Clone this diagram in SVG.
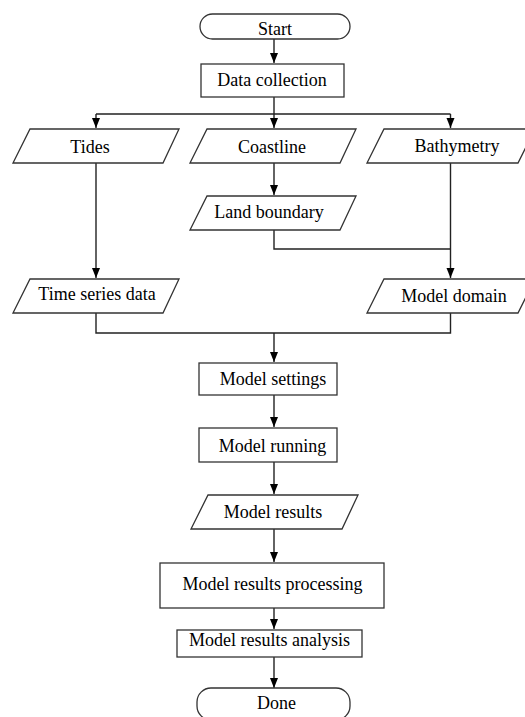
<svg xmlns="http://www.w3.org/2000/svg" width="525" height="717" viewBox="0 0 525 717">
<defs>
<marker id="ah" markerWidth="10" markerHeight="10" viewBox="0 0 10 10" refX="10" refY="5" orient="auto" markerUnits="userSpaceOnUse">
<path d="M0,1 L10,5 L0,9 Z" fill="#000"/>
</marker>
<style>
.s{fill:#fff;stroke:#333;stroke-width:1.3}
.t{font-family:"Liberation Serif","Times New Roman",serif;font-size:18px;fill:#000;text-anchor:middle}
.c{fill:none;stroke:#222;stroke-width:1.4}
</style>
</defs>
<rect width="525" height="717" fill="#fff"/>
<g id="connectors">
<path class="c" d="M274,39 V63" marker-end="url(#ah)"/>
<path class="c" d="M274,97 V114 M96,114 H450.5"/>
<path class="c" d="M96,114 V128" marker-end="url(#ah)"/>
<path class="c" d="M274,114 V128" marker-end="url(#ah)"/>
<path class="c" d="M450.5,114 V128" marker-end="url(#ah)"/>
<path class="c" d="M274,163 V195" marker-end="url(#ah)"/>
<path class="c" d="M96,163 V278" marker-end="url(#ah)"/>
<path class="c" d="M450.5,163 V278" marker-end="url(#ah)"/>
<path class="c" d="M274,230 V249 H450.5"/>
<path class="c" d="M96,313 V333 H450.5 V313"/>
<path class="c" d="M274,333 V362" marker-end="url(#ah)"/>
<path class="c" d="M274,395 V427" marker-end="url(#ah)"/>
<path class="c" d="M274,462 V494" marker-end="url(#ah)"/>
<path class="c" d="M274,529 V562" marker-end="url(#ah)"/>
<path class="c" d="M274,608 V629" marker-end="url(#ah)"/>
<path class="c" d="M274,657 V688" marker-end="url(#ah)"/>
</g>
<g id="start"><rect class="s" x="200" y="14" width="150" height="25" rx="12.5"/><text class="t" x="275" y="35">Start</text></g>
<g id="data-collection"><rect class="s" x="201" y="64" width="143" height="33"/><text class="t" x="272" y="86">Data collection</text></g>
<g id="tides"><polygon class="s" points="30,129 179,129 163,163 13,163"/><text class="t" x="90" y="153">Tides</text></g>
<g id="coastline"><polygon class="s" points="207,129 356,129 340,163 190,163"/><text class="t" x="272" y="153">Coastline</text></g>
<g id="bathymetry"><polygon class="s" points="384,129 535,129 518,163 367,163"/><text class="t" x="457" y="152">Bathymetry</text></g>
<g id="land-boundary"><polygon class="s" points="207,196 356,196 340,230 190,230"/><text class="t" x="269" y="218">Land boundary</text></g>
<g id="time-series-data"><polygon class="s" points="30,279 179,279 163,313 13,313"/><text class="t" x="97" y="300">Time series data</text></g>
<g id="model-domain"><polygon class="s" points="384,279 535,279 518,313 367,313"/><text class="t" x="454" y="302">Model domain</text></g>
<g id="model-settings"><rect class="s" x="199" y="363" width="138" height="32"/><text class="t" x="273" y="385">Model settings</text></g>
<g id="model-running"><rect class="s" x="199" y="428" width="138" height="34"/><text class="t" x="272.5" y="452">Model running</text></g>
<g id="model-results"><polygon class="s" points="208,495 358,495 342,529 191,529"/><text class="t" x="273" y="518">Model results</text></g>
<g id="model-results-processing"><rect class="s" x="160" y="563" width="224" height="45"/><text class="t" x="272.5" y="590">Model results processing</text></g>
<g id="model-results-analysis"><rect class="s" x="177" y="630" width="185" height="27"/><text class="t" x="269.5" y="646">Model results analysis</text></g>
<g id="done"><rect class="s" x="197" y="688" width="153" height="32" rx="14"/><text class="t" x="276.5" y="709">Done</text></g>
</svg>
